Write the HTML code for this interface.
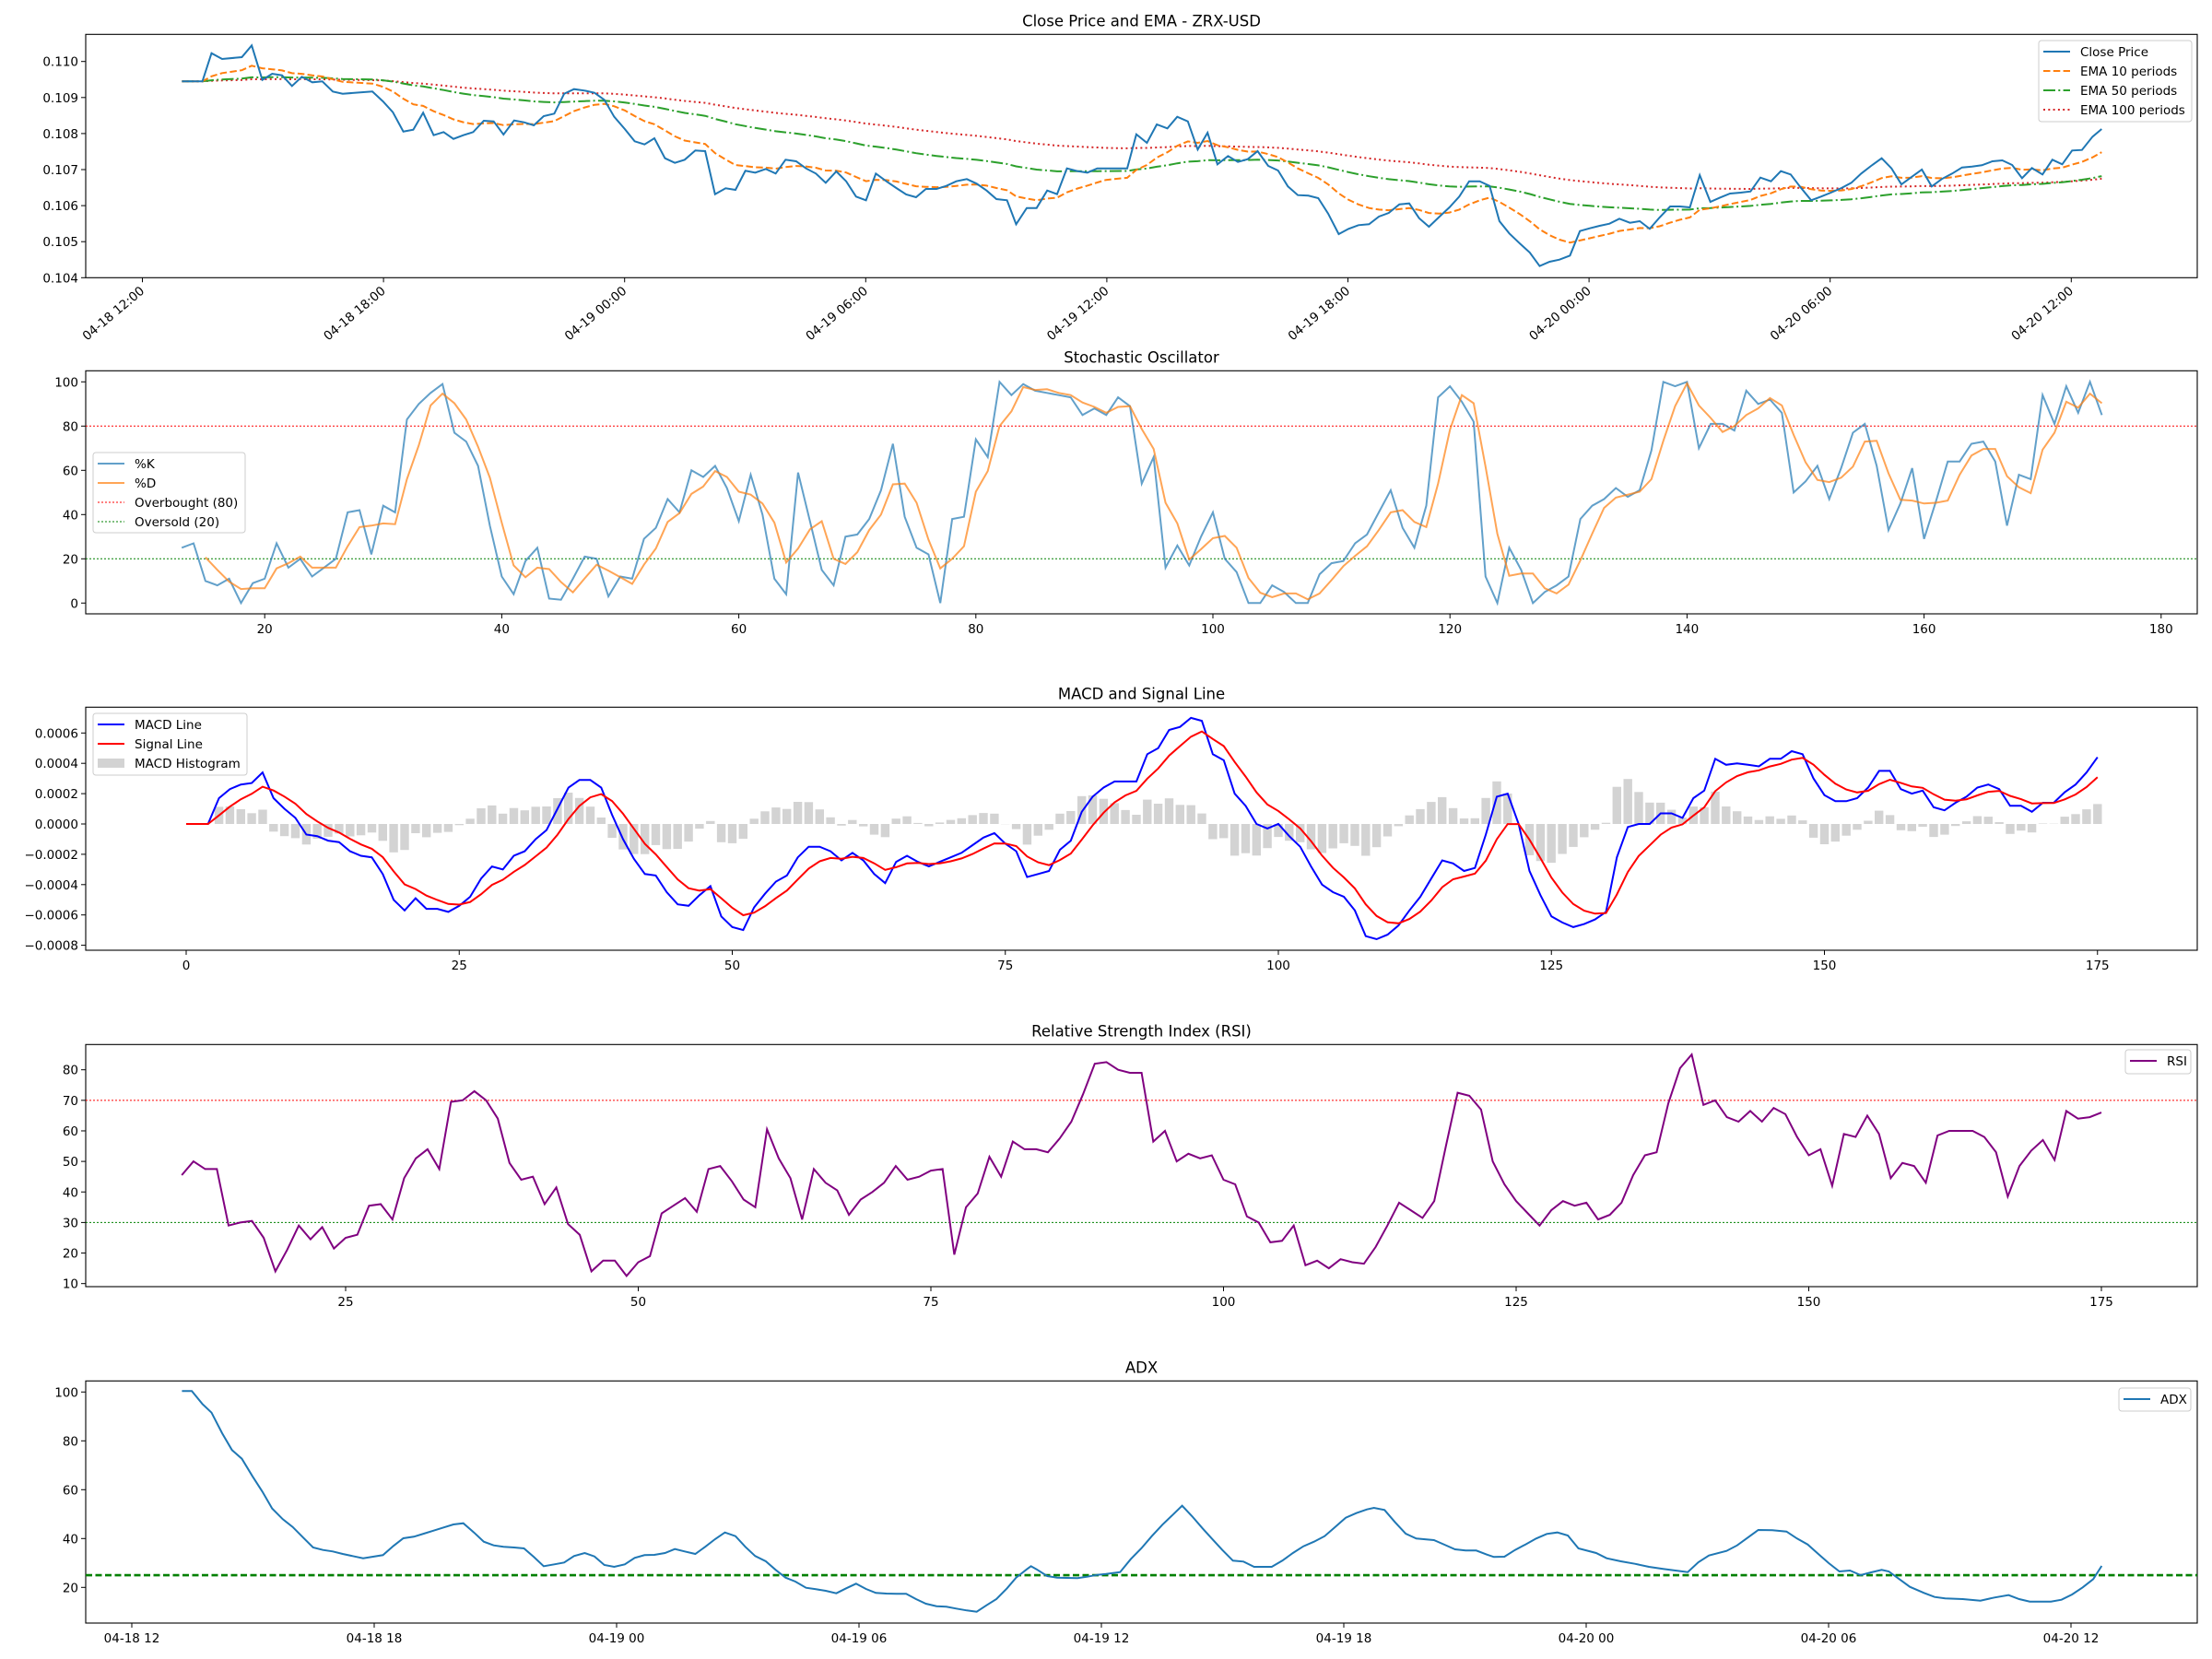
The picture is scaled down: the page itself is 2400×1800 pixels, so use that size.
<!DOCTYPE html>
<html><head><meta charset="utf-8"><style>
html,body{margin:0;padding:0;background:#fff;}
svg{display:block;font-family:"DejaVu Sans","Liberation Sans",sans-serif;}
</style></head><body>
<svg id="s" width="2400" height="1800" viewBox="0 0 2400 1800" xmlns="http://www.w3.org/2000/svg"></svg>
<script>
const S=document.getElementById('s');let out='';
const L=93,R=2384;
function poly(pts,st){return '<polyline fill="none" points="'+pts.map(p=>p[0].toFixed(1)+','+p[1].toFixed(1)).join(' ')+'" '+st+'/>';}
function txt(x,y,t,a,sz,extra){return `<text x="${x}" y="${y}" font-size="${sz||13.5}" text-anchor="${a||'middle'}" ${extra||''}>${t}</text>`;}
function frame(t,b,title){out+=`<rect x="${L}" y="${t}" width="${R-L}" height="${b-t}" fill="none" stroke="#000" stroke-width="1.1"/>`;out+=txt((L+R)/2,t-9,title,'middle',16.5);}
function yt(y,lab){out+=`<line x1="${L-5}" x2="${L}" y1="${y}" y2="${y}" stroke="#000"/>`;out+=txt(L-8,y+5,lab,'end');}
function xt(x,b,lab){out+=`<line x1="${x}" x2="${x}" y1="${b}" y2="${b+5}" stroke="#000"/>`;if(lab!==null)out+=txt(x,b+21,lab,'middle');}
function ema(a,n){const k=2/(n+1);let r=[],e=a[0];for(const v of a){e=v*k+e*(1-k);r.push(e);}return r;}
function legend(x,y,w,h,items){out+=`<rect x="${x}" y="${y}" width="${w}" height="${h}" rx="3" fill="#fff" fill-opacity="0.8" stroke="#ccc"/>`;
items.forEach((it,i)=>{const cy=y+12+i*21;if(it.patch){out+=`<rect x="${x+5}" y="${cy-5}" width="29" height="10" fill="${it.c}"/>`;}else out+=`<line x1="${x+5}" x2="${x+34}" y1="${cy}" y2="${cy}" ${it.st}/>`;out+=txt(x+45,cy+5,it.t,'start');});}

// ---------- Panel 1
frame(37.3,301.3,'Close Price and EMA - ZRX-USD');
for(let i=0;i<=6;i++){const v=0.104+i*0.001;const y=301.3-i*39.1;yt(y,v.toFixed(3));}
const d1=['04-18 12:00','04-18 18:00','04-19 00:00','04-19 06:00','04-19 12:00','04-19 18:00','04-20 00:00','04-20 06:00','04-20 12:00'];
d1.forEach((l,i)=>{const x=154.5+i*261.6;out+=`<line x1="${x}" x2="${x}" y1="301.3" y2="306.3" stroke="#000"/>`;out+=`<text x="${x+3}" y="${317}" font-size="13.5" text-anchor="end" transform="rotate(-40 ${x+3} 317)">${l}</text>`;});
const c1=[[258,265],[287,265],[300,173],[315,192],[343,186],[357,148],[372,260],[386,240],[400,245],[414,280],[428,250],[443,268],[457,265],[472,298],[486,305],[528,298],[543,330],[557,365],[572,428],[586,422],[600,367],[615,440],[629,430],[643,452],[657,440],[671,430],[686,393],[700,395],[714,438],[729,392],[743,398],[757,408],[771,378],[786,370],[800,305],[814,290],[829,295],[843,302],[857,325],[871,380],[886,420],[900,460],[914,470],[928,450],[943,515],[957,530],[971,520],[986,490],[1000,492],[1014,632],[1029,613],[1043,618],[1057,556],[1071,562],[1086,550],[1100,565],[1114,520],[1129,525],[1143,548],[1157,565],[1171,595],[1186,558],[1200,590],[1214,640],[1228,652],[1242,565],[1257,590],[1271,612],[1285,633],[1299,642],[1313,615],[1328,615],[1342,605],[1356,590],[1371,583],[1385,598],[1399,620],[1413,648],[1428,652],[1441,730],[1456,677],[1470,677],[1485,620],[1499,632],[1513,548],[1528,557],[1542,562],[1556,548]];
const c2=[[0,548],[30,548],[43,437],[58,465],[72,405],[87,418],[101,380],[116,395],[130,487],[144,432],[158,535],[173,508],[187,527],[201,518],[215,492],[230,540],[244,555],[258,607],[272,635],[287,637],[301,645],[315,695],[330,762],[344,745],[358,733],[373,730],[387,705],[401,693],[416,665],[430,662],[444,710],[458,738],[473,705],[487,675],[501,640],[515,590],[530,590],[544,605],[558,720],[572,760],[587,793],[601,822],[615,866],[629,852],[643,845],[658,832],[672,752],[686,743],[700,735],[714,728],[728,712],[743,725],[757,720],[771,745],[785,708],[800,672],[814,672],[828,675],[842,570],[857,657],[871,643],[885,630],[900,627],[914,623],[928,578],[943,590],[957,557],[971,568],[985,610],[1000,652],[1014,640],[1028,627],[1043,612],[1057,595],[1071,565],[1085,540],[1100,515],[1114,548],[1128,600],[1143,575],[1157,552],[1171,607],[1185,583],[1200,565],[1214,545],[1228,542],[1242,538],[1257,525],[1271,522],[1285,537],[1299,580],[1313,547],[1328,568],[1342,520],[1356,535],[1370,490],[1384,488],[1399,445],[1412,420]];
const close=c1.map(p=>[p[0]/1.307,p[1]/3]).concat(c2.map(p=>[1200+p[0]/1.307,p[1]/3]));
const cy=close.map(p=>p[1]);
const e10=ema(cy,10),e50=ema(cy,50),e100=ema(cy,100);
out+=poly(close.map((p,i)=>[p[0],e100[i]]),'stroke="#d62728" stroke-width="2" stroke-dasharray="2,3.3"');
out+=poly(close.map((p,i)=>[p[0],e50[i]]),'stroke="#2ca02c" stroke-width="2" stroke-dasharray="13,3.3,2,3.3"');
out+=poly(close.map((p,i)=>[p[0],e10[i]]),'stroke="#ff7f0e" stroke-width="2" stroke-dasharray="7.5,3.3"');
out+=poly(close,'stroke="#1f77b4" stroke-width="2"');
legend(2212,44,166,88,[{t:'Close Price',st:'stroke="#1f77b4" stroke-width="2"'},{t:'EMA 10 periods',st:'stroke="#ff7f0e" stroke-width="2" stroke-dasharray="7.5,3.3"'},{t:'EMA 50 periods',st:'stroke="#2ca02c" stroke-width="2" stroke-dasharray="13,3.3,2,3.3"'},{t:'EMA 100 periods',st:'stroke="#d62728" stroke-width="2" stroke-dasharray="2,3.3"'}]);

// ---------- Panel 2 Stochastic
frame(402.3,666,'Stochastic Oscillator');
const sy=v=>654.3-v*2.4, sx=i=>30+12.86*i;
for(let v=0;v<=100;v+=20)yt(sy(v),v);
for(let i=20;i<=180;i+=20)xt(sx(i),666,i);
out+=`<line x1="${L}" x2="${R}" y1="${sy(80)}" y2="${sy(80)}" stroke="#ff0000" stroke-width="1" stroke-dasharray="2,2"/>`;
out+=`<line x1="${L}" x2="${R}" y1="${sy(20)}" y2="${sy(20)}" stroke="#008000" stroke-width="1" stroke-dasharray="2,2"/>`;
const K=[25,27,10,8,11,0,9,11,27,16,20,12,16,20,41,42,22,44,41,83,90,95,99,77,73,62,35,12,4,19,25,2,1.5,11,21,20,3,12,11,29,34,47,41,60,57,62,52,37,58,40,11,4,59,37,15,8,30,31,38,51,72,39,25,22,0,38,39,74,66,100,94,99,96,95,94,93,85,88,85,93,89,54,66,16,26,17,30,41,20,14,0,0,8,5,0,0,13,18,19,27,31,41,51,34,25,44,93,98,91,82,12,0,25,15,0,5,8,12,38,44,47,52,48,51,69,100,98,100,70,81,81,78,96,90,92,86,50,55,62,47,61,77,81,62,33,45,61,29,46,64,64,72,73,64,35,58,56,94,81,98,86,100,85];
const Dv=[];for(let i=2;i<K.length;i++)Dv.push([sx(13+i),sy((K[i]+K[i-1]+K[i-2])/3)]);
out+=poly(K.map((v,i)=>[sx(13+i),sy(v)]),'stroke="#1f77b4" stroke-opacity="0.7" stroke-width="2"');
out+=poly(Dv,'stroke="#ff7f0e" stroke-opacity="0.7" stroke-width="2"');
legend(101,491,165,87,[{t:'%K',st:'stroke="#1f77b4" stroke-opacity="0.7" stroke-width="2"'},{t:'%D',st:'stroke="#ff7f0e" stroke-opacity="0.7" stroke-width="2"'},{t:'Overbought (80)',st:'stroke="#ff0000" stroke-width="1" stroke-dasharray="2,2"'},{t:'Oversold (20)',st:'stroke="#008000" stroke-width="1" stroke-dasharray="2,2"'}]);

// ---------- Panel 3 MACD
frame(767.3,1031,'MACD and Signal Line');
const my=v=>894-v*16.45, mx=i=>202+11.85*i;
for(let v=-8;v<=6;v+=2)yt(my(v),(v<0?'\u22120.':'0.')+String(Math.abs(v)).padStart(4,'0').replace(/^0*(\d)$/,'000$1'));
for(let i=0;i<=175;i+=25)xt(mx(i),1031,i);
const M=[0,0,0,1.7,2.3,2.6,2.7,3.4,1.7,1.0,0.4,-0.7,-0.8,-1.1,-1.2,-1.8,-2.1,-2.2,-3.3,-5.0,-5.7,-4.9,-5.6,-5.6,-5.8,-5.4,-4.8,-3.6,-2.8,-3.0,-2.1,-1.8,-1.0,-0.4,1.0,2.4,2.9,2.9,2.4,0.6,-1.0,-2.3,-3.3,-3.4,-4.5,-5.3,-5.4,-4.7,-4.1,-6.1,-6.8,-7.0,-5.5,-4.6,-3.8,-3.4,-2.2,-1.5,-1.5,-1.8,-2.4,-1.9,-2.4,-3.3,-3.9,-2.5,-2.1,-2.5,-2.8,-2.5,-2.2,-1.9,-1.4,-0.9,-0.6,-1.3,-1.8,-3.5,-3.3,-3.1,-1.7,-1.1,0.8,1.8,2.4,2.8,2.8,2.8,4.6,5.0,6.2,6.4,7.0,6.8,4.6,4.2,2.0,1.2,0.0,-0.3,0.0,-0.8,-1.5,-2.8,-4.0,-4.5,-4.8,-5.7,-7.4,-7.6,-7.3,-6.7,-5.7,-4.8,-3.6,-2.4,-2.6,-3.1,-2.9,-0.7,1.8,2.0,0.0,-3.1,-4.7,-6.1,-6.5,-6.8,-6.6,-6.3,-5.8,-2.2,-0.2,0.0,0.0,0.7,0.7,0.4,1.7,2.2,4.3,3.9,4.0,3.9,3.8,4.3,4.3,4.8,4.6,3.0,1.9,1.5,1.5,1.7,2.4,3.5,3.5,2.3,2.0,2.2,1.1,0.9,1.4,1.8,2.4,2.6,2.3,1.2,1.2,0.8,1.4,1.4,2.1,2.6,3.4,4.4];
const sig=ema(M,5);
M.forEach((v,i)=>{const h=v-sig[i];const y0=my(0),y1=my(h);out+=`<rect x="${(mx(i)-4.7).toFixed(1)}" y="${Math.min(y0,y1).toFixed(1)}" width="9.4" height="${Math.abs(y1-y0).toFixed(1)}" fill="#d3d3d3"/>`;});
out+=poly(M.map((v,i)=>[mx(i),my(v)]),'stroke="#0000ff" stroke-width="2"');
out+=poly(sig.map((v,i)=>[mx(i),my(v)]),'stroke="#ff0000" stroke-width="2"');
legend(101,774,167,67,[{t:'MACD Line',st:'stroke="#0000ff" stroke-width="2"'},{t:'Signal Line',st:'stroke="#ff0000" stroke-width="2"'},{t:'MACD Histogram',patch:1,c:'#d3d3d3'}]);

// ---------- Panel 4 RSI
frame(1133.3,1396,'Relative Strength Index (RSI)');
const ry=v=>1160.7+(80-v)*3.314, rx=i=>57.5+12.7*i;
for(let v=10;v<=80;v+=10)yt(ry(v),v);
for(let i=25;i<=175;i+=25)xt(rx(i),1396,i);
out+=`<line x1="${L}" x2="${R}" y1="${ry(70)}" y2="${ry(70)}" stroke="#ff0000" stroke-width="1" stroke-dasharray="2,2"/>`;
out+=`<line x1="${L}" x2="${R}" y1="${ry(30)}" y2="${ry(30)}" stroke="#008000" stroke-width="1" stroke-dasharray="2,2"/>`;
const RS=[45.5,50,47.5,47.5,29,30,30.5,25,14,21,29,24.5,28.5,21.5,25,26,35.5,36,31,44.5,51,54,47.5,69.5,70,73,70,64,49.5,44,45,36,41.5,29.5,26,14,17.5,17.5,12.5,17,19,33,35.5,38,33.5,47.5,48.5,43.5,37.5,35,60.5,51,44.5,31,47.5,43,40.5,32.5,37.5,40,43,48.5,44,45,47,47.5,19.5,35,39.5,51.5,45,56.5,54,54,53,57.5,63,72,82,82.5,80,79,79,56.5,60,50,52.5,51,52,44,42.5,32,30,23.5,24,29,16,17.5,15,18,17,16.5,22,29,36.5,34,31.5,37,55,72.5,71.5,67,50,42.5,37,33,29,34,37,35.5,36.5,31,32.5,36.5,45.5,52,53,69,80.5,85,68.5,70,64.5,63,66.5,63,67.5,65.5,58,52,54,42,59,58,65,59,44.5,49.5,48.5,43,58.5,60,60,60,58,53,38.5,48.5,53.5,57,50.5,66.5,64,64.5,66];
out+=poly(RS.map((v,i)=>[rx(11+i),ry(v)]),'stroke="#800080" stroke-width="2"');
legend(2306,1139,71,26,[{t:'RSI',st:'stroke="#800080" stroke-width="2"'}]);

// ---------- Panel 5 ADX
frame(1498.3,1761,'ADX');
const ay=v=>1510.3+(100-v)*2.65;
for(let v=20;v<=100;v+=20)yt(ay(v),v);
['04-18 12','04-18 18','04-19 00','04-19 06','04-19 12','04-19 18','04-20 00','04-20 06','04-20 12'].forEach((l,i)=>xt(143+i*263,1761,l));
out+=`<line x1="${L}" x2="${R}" y1="${ay(25)}" y2="${ay(25)}" stroke="#008000" stroke-width="2.6" stroke-dasharray="7,3.5"/>`;
const a1=[[258,118],[272,118],[287,160],[300,188],[315,255],[329,310],[343,338],[358,395],[372,445],[386,500],[401,535],[415,560],[430,595],[444,627],[458,635],[472,640],[486,648],[500,655],[515,662],[529,657],[543,652],[558,622],[572,597],[587,592],[601,582],[615,572],[629,562],[643,552],[657,548],[672,578],[686,608],[700,620],[714,625],[729,627],[743,630],[757,658],[771,688],[786,682],[800,676],[814,655],[829,645],[843,656],[857,684],[871,690],[886,682],[900,661],[914,652],[928,651],[943,645],[957,632],[971,640],[986,648],[1000,625],[1014,600],[1028,578],[1043,590],[1057,625],[1071,655],[1086,672],[1100,700],[1114,725],[1128,738],[1143,758],[1157,763],[1171,768],[1186,776],[1200,760],[1214,745],[1228,762],[1242,775],[1257,777],[1271,778],[1285,778],[1299,795],[1313,810],[1328,818],[1342,820],[1356,826],[1371,832],[1385,836],[1399,815],[1413,795],[1428,760],[1441,725],[1456,698],[1462,688],[1470,698],[1485,720],[1499,725],[1513,726],[1528,727],[1542,722],[1556,716]];
const a2=[[0,713],[20,707],[35,665],[50,630],[65,590],[80,553],[95,520],[108,491],[122,525],[137,565],[150,598],[165,635],[180,670],[195,673],[210,690],[235,690],[250,670],[265,645],[280,623],[295,608],[310,590],[325,560],[340,530],[355,515],[370,503],[380,498],[395,505],[410,545],[425,582],[440,598],[465,603],[480,618],[495,633],[510,637],[525,637],[540,650],[550,658],[565,657],[580,635],[595,617],[610,598],[625,583],[640,578],[655,588],[670,630],[695,645],[710,662],[730,672],[750,680],[770,690],[790,697],[810,703],[825,707],[840,675],[855,653],[880,638],[895,620],[910,595],[925,570],[945,571],[965,575],[980,598],[995,617],[1010,648],[1025,678],[1040,705],[1055,702],[1070,717],[1085,708],[1100,700],[1110,705],[1125,730],[1140,755],[1160,775],[1175,788],[1190,793],[1215,795],[1240,800],[1260,790],[1280,782],[1295,795],[1310,803],[1340,803],[1355,797],[1370,780],[1385,757],[1400,730],[1412,687]];
const adx=a1.map(p=>[p[0]/1.307,1470+p[1]/3]).concat(a2.map(p=>[1200+p[0]/1.307,1470+p[1]/3]));
out+=poly(adx,'stroke="#1f77b4" stroke-width="2"');
legend(2299,1506,78,25,[{t:'ADX',st:'stroke="#1f77b4" stroke-width="2"'}]);

S.innerHTML=out;
</script>
</body></html>
